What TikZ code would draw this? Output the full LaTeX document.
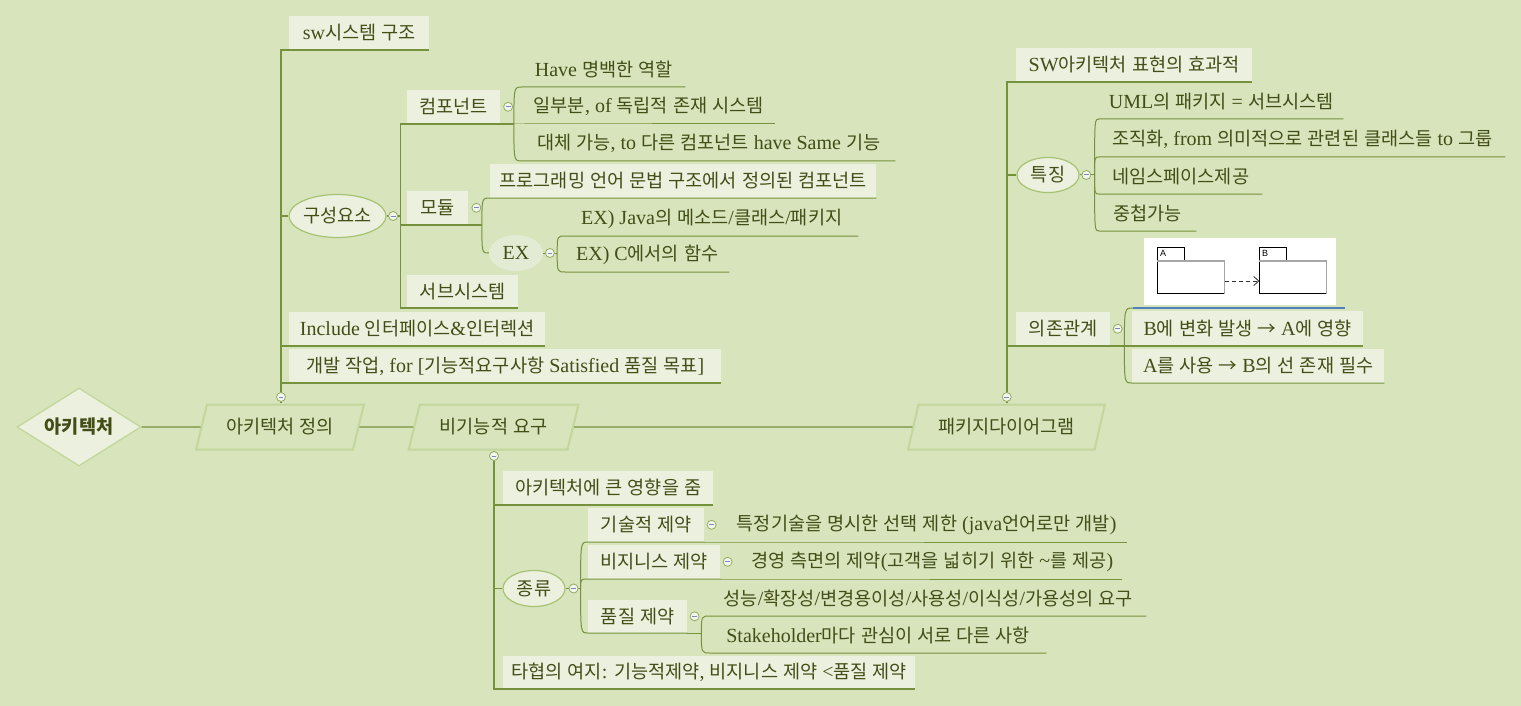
\documentclass[tikz,border=0pt]{standalone}
\usepackage{fontspec}
\setmainfont{Liberation Serif}
\newfontfamily\krfont[Scale=0.93]{Noto Sans CJK KR}
\newfontfamily\pkgfont{Liberation Sans}
\usetikzlibrary{shapes.geometric,arrows.meta,calc}
\XeTeXinterchartokenstate=1
\chardef\KRclass=100
\newcount\krc
\krc="AC00
\loop
  \XeTeXcharclass\krc=\KRclass
\ifnum\krc<"D7A3 \advance\krc by 1
\repeat
\XeTeXcharclass"2192=\KRclass
\def\setkr#1{\XeTeXinterchartoks #1 \KRclass={\krfont}\XeTeXinterchartoks \KRclass #1={\rmfamily}}
\setkr{0}\setkr{1}\setkr{2}\setkr{3}\setkr{4095}
\definecolor{bgc}{HTML}{D8E4BC}
\definecolor{boxc}{HTML}{EBF1DE}
\definecolor{linec}{HTML}{76923C}
\definecolor{ovalc}{HTML}{A8C274}
\definecolor{parac}{HTML}{C3D69B}
\definecolor{txtc}{HTML}{434D17}
\definecolor{btnc}{HTML}{93AC62}
\definecolor{btnf}{HTML}{F3F6EC}
\definecolor{btnm}{HTML}{7A87BE}
\definecolor{exc}{HTML}{E4EBD4}
\definecolor{bluec}{HTML}{4F81BD}
\begin{document}
\begin{tikzpicture}[x=1pt,y=-1pt,font=\fontsize{20}{24}\selectfont,text=txtc,
 leaf/.style={anchor=south west,minimum height=34,inner sep=0},
 fbox/.style={leaf,fill=boxc},
 conn/.style={draw=linec,line width=1.2},
 trunk/.style={draw=linec,line width=1.6},
 brc/.style={draw=linec,line width=1},
 oval/.style={ellipse,fill=boxc,draw=ovalc,line width=1.2,inner sep=0},
 para/.style={trapezium,trapezium left angle=64.5,trapezium right angle=115.5,trapezium stretches=true,draw=parac,line width=2,minimum height=45,inner sep=0},
 btn/.style={circle,draw=btnc,fill=btnf,line width=0.8,minimum size=9,inner sep=0,path picture={\draw[btnm,line width=1](path picture bounding box.center)++(-2.4,0)--++(4.8,0);}},
 pkg/.style={draw=black,line width=0.7,fill=white,anchor=north west,inner sep=0},
 pkgl/.style={font=\pkgfont\fontsize{9}{10}\selectfont,text=black,anchor=north west,inner sep=0}
]
\fill[bgc] (0,0) rectangle (1521,706);
\useasboundingbox (0,0) rectangle (1521,706);

% ---------- main spine ----------
\node[diamond,aspect=1.6,fill=boxc,draw=parac,line width=1.3,minimum width=124,minimum height=78,inner sep=0,font=\fontsize{20}{24}\selectfont\bfseries] (root) at (79,427) {아키텍처};
\node[para,minimum width=168] (p1) at (280,427) {아키텍처 정의};
\node[para,minimum width=170] (p2) at (493.6,427) {비기능적 요구};
\node[para,minimum width=197] (p3) at (1006.5,427) {패키지다이어그램};
\draw[conn] (root) -- (p1);
\draw[conn] (p1) -- (p2);
\draw[conn] (p2) -- (p3);

\coordinate (p1b) at (281,397);
\coordinate (p2b) at (494,456);
\coordinate (p3b) at (1006.7,397);

% ---------- 아키텍처 정의 ----------
\node[fbox,minimum width=140] (sw) at (289,50) {sw시스템 구조};
\node[oval,minimum width=97,minimum height=43] (gs) at (337.5,216) {구성요소};
\node[fbox,minimum width=256] (inc) at (289,346) {Include 인터페이스\&인터렉션};
\node[fbox,minimum width=432] (dev) at (289,383) {개발 작업, for [기능적요구사항 Satisfied 품질 목표]};

\draw[conn] (p1b |- p1.north) -- (p1b);
\draw[conn] (p1b) |- (sw.south west) -- (sw.south east);
\draw[conn] (p1b) |- (gs.west);
\draw[conn] (p1b) |- (inc.south west) -- (inc.south east);
\draw[conn] (p1b) |- (dev.south west) -- (dev.south east);

% 구성요소
\coordinate (g1) at ($(gs.east)+(14,0)$);
\node[fbox,minimum width=93] (comp) at (407,124) {컴포넌트};
\node[fbox,minimum width=61] (mod) at (407,225) {모듈};
\node[fbox,minimum width=111,minimum height=33] (subs) at (407,308) {서브시스템};
\draw[conn] (gs.east) -- (g1);
\coordinate (cB) at ($(comp.south east)+(13.5,0)$);
\coordinate (mB) at ($(mod.south east)+(13.5,0)$);
\draw[conn] (g1) |- (comp.south west) -- (cB);
\draw[conn] (g1) |- (mod.south west) -- (mB);
\draw[conn] (g1) |- (subs.south west) -- (subs.south east);

% 컴포넌트
\node[leaf,minimum width=163] (c1) at (522,87) {Have 명백한 역할};
\node[leaf,minimum width=253] (c2) at (522,124) {일부분, of 독립적 존재 시스템};
\node[leaf,minimum width=373] (c3) at (522,161) {대체 가능, to 다른 컴포넌트 have Same 기능};
\draw[brc] (cB) .. controls (cB |- c1.south west) .. (c1.south west) -- (c1.south east);
\draw[brc] (cB) -- (c2.south west) -- (c2.south east);
\draw[brc] (cB) .. controls (cB |- c3.south west) .. (c3.south west) -- (c3.south east);

% 모듈
\node[fbox,minimum width=386] (m1) at (490,198) {프로그래밍 언어 문법 구조에서 정의된 컴포넌트};
\node[ellipse,fill=exc,inner sep=0,minimum width=54,minimum height=36] (ex) at (516,253) {EX};
\draw[brc] (mB) .. controls (mB |- m1.south west) .. (m1.south west) -- (m1.south east);
\draw[brc] (mB) .. controls (mB |- ex.west) .. (ex.west);

% EX
\coordinate (xB) at ($(ex.east)+(14,0)$);
\node[leaf,minimum width=293] (e1) at (565,236) {EX) Java의 메소드/클래스/패키지};
\node[leaf,minimum width=164] (e2) at (565,272) {EX) C에서의 함수};
\draw[brc] (ex.east) -- (xB);
\draw[brc] (xB) .. controls (xB |- e1.south west) .. (e1.south west) -- (e1.south east);
\draw[brc] (xB) .. controls (xB |- e2.south west) .. (e2.south west) -- (e2.south east);

% ---------- 비기능적 요구 ----------
\node[fbox,minimum width=210] (a1) at (503,505) {아키텍처에 큰 영향을 줌};
\node[oval,minimum width=62,minimum height=36] (kind) at (534,588.5) {종류};
\node[fbox,minimum width=412,minimum height=33] (a3) at (503,689) {타협의 여지: 기능적제약, 비지니스 제약 <품질 제약};
\draw[trunk] (p2b |- p2.south) -- (p2b);
\draw[trunk] (p2b) |- (a1.south west) -- (a1.south east);
\draw[trunk] (p2b) |- (kind.west);
\draw[trunk] (p2b) |- (a3.south west) -- (a3.south east);

\coordinate (kB) at ($(kind.east)+(15,0)$);
\node[fbox,minimum width=116] (t1) at (588,542) {기술적 제약};
\node[fbox,minimum width=132] (t2) at (588,579) {비지니스 제약};
\node[fbox,minimum width=99,minimum height=33] (t3) at (588,633) {품질 제약};
\draw[brc] (kind.east) -- (kB);
\draw[brc] (kB) .. controls (kB |- t1.south west) .. (t1.south west) -- (t1.south east);
\draw[brc] (kB) .. controls (kB |- t2.south west) .. (t2.south west) -- (t2.south east);
\draw[brc] (kB) .. controls (kB |- t3.south west) .. (t3.south west) -- (t3.south east);

\node[leaf,minimum width=401] (t1c) at (726,542) {특정기술을 명시한 선택 제한 (java언어로만 개발)};
\node[leaf,minimum width=380] (t2c) at (742,579) {경영 측면의 제약(고객을 넓히기 위한 \textasciitilde 를 제공)};
\draw[brc] (t1.south east) -- (t1c.south west) -- (t1c.south east);
\draw[brc] (t2.south east) -- (t2c.south west) -- (t2c.south east);

\coordinate (qB) at ($(t3.south east)+(14,0)$);
\node[leaf,minimum width=436] (q1) at (710,616) {성능/확장성/변경용이성/사용성/이식성/가용성의 요구};
\node[leaf,minimum width=336] (q2) at (710,653) {Stakeholder마다 관심이 서로 다른 사항};
\draw[brc] (t3.south east) -- (qB);
\draw[brc] (qB) .. controls (qB |- q1.south west) .. (q1.south west) -- (q1.south east);
\draw[brc] (qB) .. controls (qB |- q2.south west) .. (q2.south west) -- (q2.south east);

% ---------- 패키지다이어그램 ----------
\node[fbox,minimum width=236] (s1) at (1016,82) {SW아키텍처 표현의 효과적};
\node[oval,minimum width=62,minimum height=35] (feat) at (1048,175) {특징};
\node[fbox,minimum width=94] (dep) at (1016,346) {의존관계};
\draw[trunk] (p3b |- p3.north) -- (p3b);
\draw[trunk] (p3b) |- (s1.south west) -- (s1.south east);
\draw[trunk] (p3b) |- (feat.west);
\draw[trunk] (p3b) |- (dep.south west) -- (dep.south east);

\coordinate (fB) at ($(feat.east)+(15,0)$);
\node[leaf,minimum width=244] (f1) at (1099,119) {UML의 패키지 = 서브시스템};
\node[leaf,minimum width=406] (f2) at (1099,157) {조직화, from 의미적으로 관련된 클래스들 to 그룹};
\node[leaf,minimum width=163] (f3) at (1099,194) {네임스페이스제공};
\node[leaf,minimum width=97] (f4) at (1099,231) {중첩가능};
\draw[brc] (feat.east) -- (fB);
\draw[brc] (fB) .. controls (fB |- f1.south west) .. (f1.south west) -- (f1.south east);
\draw[brc] (fB) .. controls (fB |- f2.south west) .. (f2.south west) -- (f2.south east);
\draw[brc] (fB) .. controls (fB |- f3.south west) .. (f3.south west) -- (f3.south east);
\draw[brc] (fB) .. controls (fB |- f4.south west) .. (f4.south west) -- (f4.south east);

\coordinate (dB) at ($(dep.south east)+(14,0)$);
\node[fbox,minimum width=231,minimum height=35] (d1) at (1132,346) {B에 변화 발생 → A에 영향};
\node[fbox,minimum width=252] (d2) at (1132,383) {A를 사용 → B의 선 존재 필수};
\coordinate (blS) at (1133,308);
\coordinate (blE) at (1345,308);
\draw[conn] (dep.south east) -- (dB) -- (d1.south west) -- (d1.south east);
\draw[brc] (dB) .. controls (dB |- blS) .. (blS);
\draw[brc] (dB) .. controls (dB |- d2.south west) .. (d2.south west) -- (d2.south east);
\draw[bluec,line width=2.5] (blS) -- (blE);

% UML picture
\node[fill=white,minimum width=192.4,minimum height=67,inner sep=0,anchor=north west] (img) at (1143.3,237.3) {};
\node[pkg,minimum width=27,minimum height=13.7] (tA) at (1157.3,247.3) {};
\node[pkg,minimum width=66.7,minimum height=32.3] (bA) at (1157.3,261) {};
\node[pkg,minimum width=27,minimum height=13.7] (tB) at (1259.3,247.3) {};
\node[pkg,minimum width=66.4,minimum height=32.3] (bB) at (1259.3,261) {};
\draw[gray!70,line width=1.4] (bA.north west) -- (bA.north east) -- (bA.south east);
\draw[gray!70,line width=1.4] (bB.north west) -- (bB.north east) -- (bB.south east);
\node[pkgl] (lA) at ($(tA.north west)+(2.5,2.5)$) {A};
\node[pkgl] (lB) at ($(tB.north west)+(2.5,2.5)$) {B};
\draw[black!80,line width=0.8,dash pattern=on 4pt off 3pt,-{Straight Barb[length=5,width=9]}] ([yshift=-3.5pt]bA.east) -- ([yshift=-3.5pt]bB.west);

% ---------- collapse buttons ----------
\node[btn] at (p1b) {};
\node[btn] at (p2b) {};
\node[btn] at (p3b) {};
\node[btn] at ($(gs.east)+(6.5,0)$) {};
\node[btn] at ($(comp.east)+(7.7,0)$) {};
\node[btn] at ($(mod.east)+(8,0)$) {};
\node[btn] at ($(ex.east)+(6.7,0)$) {};
\node[btn] at ($(kind.east)+(8,0)$) {};
\node[btn] at ($(t1.east)+(7.2,0)$) {};
\node[btn] at ($(t2.east)+(7.2,0)$) {};
\node[btn] at ($(t3.east)+(7.2,0)$) {};
\node[btn] at ($(feat.east)+(6.7,0)$) {};
\node[btn] at ($(dep.east)+(7.3,0)$) {};
\end{tikzpicture}
\end{document}
